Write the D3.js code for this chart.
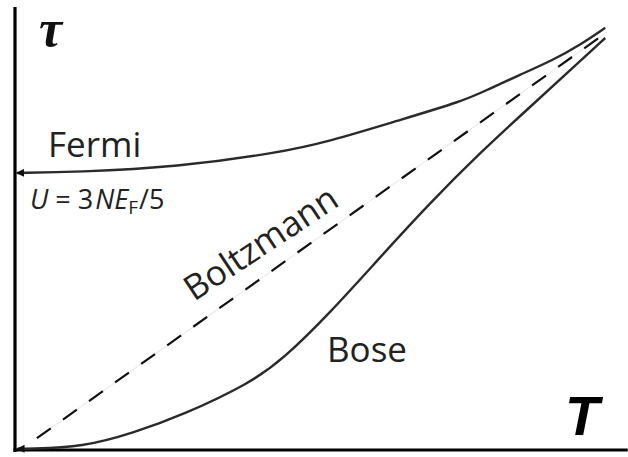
<!DOCTYPE html>
<html>
<head>
<meta charset="utf-8">
<script src="https://cdn.jsdelivr.net/npm/d3@7"></script>
<style>
  html, body { margin: 0; padding: 0; background: #fff; }
  svg { display: block; }
  .curve { fill: none; stroke: #2a2a2a; stroke-width: 2.4; }
  .label { font-family: "Open Sans", sans-serif; fill: #222; }
</style>
</head>
<body>
<div id="chart-area"></div>
<script>
// curves, in arbitrary units (T and tau from 0 to 100)
const fermiT   = [0.3, 10.5, 27.4, 44.3, 53.2, 64.5, 75.7, 79.7, 85.3, 90.9, 95.4, 99.7];
const fermiTau = [65.5, 65.7, 66.9, 70.2, 73.0, 77.8, 82.5, 85.1, 88.7, 92.2, 95.7, 99.8];

const boseT   = [0.4, 2.2, 11.5, 19.9, 28.4, 39.7, 45.3, 53.2, 61.7, 70.1, 78.5, 87.0, 93.8, 99.7];
const boseTau = [0.3, 0.3, 0.7, 4.0, 8.3, 15.8, 21.5, 32.4, 45.6, 58.4, 70.2, 81.1, 89.8, 97.4];

const boltzmannT   = [3.7, 100];
const boltzmannTau = [2.8, 98.8];

const axisT   = [0, 103.5];
const axisTau = [-0.5, 104.7];

const chartSize = {width: 628, height: 457};

const x = d3.scaleLinear().domain([0, 100]).range([15, 607]);
const y = d3.scaleLinear().domain([0, 100]).range([450, 27]);

const toPoints = (ts, taus) => ts.map((t, i) => [t, taus[i]]);

const line = d3.line()
    .x(d => x(d[0]))
    .y(d => y(d[1]))
    .curve(d3.curveBasis);

const straight = d3.line().x(d => x(d[0])).y(d => y(d[1]));

const svg = d3.select("#chart-area")
    .append("svg")
    .attr("width", chartSize.width)
    .attr("height", chartSize.height);

svg.append("defs").append("marker")
    .attr("id", "arrow")
    .attr("viewBox", "0 0 10 10")
    .attr("refX", 9)
    .attr("refY", 5)
    .attr("markerUnits", "userSpaceOnUse")
    .attr("markerWidth", 15)
    .attr("markerHeight", 8)
    .attr("orient", "auto-start-reverse")
    .append("path")
    .attr("d", "M0,0 L10,5 L0,10 z")
    .attr("fill", "#111");

// axes, no ticks
svg.append("line")
    .attr("x1", x(0)).attr("x2", x(0))
    .attr("y1", y(axisTau[0])).attr("y2", y(axisTau[1]))
    .attr("stroke", "#000").attr("stroke-width", 3.2);

svg.append("line")
    .attr("x1", x(0) - 1.5).attr("x2", x(axisT[1]))
    .attr("y1", y(0)).attr("y2", y(0))
    .attr("stroke", "#000").attr("stroke-width", 3.2);

// Boltzmann: faint guide under the dashes
const boltz = toPoints(boltzmannT, boltzmannTau);
svg.append("path")
    .attr("d", straight(boltz))
    .attr("fill", "none")
    .attr("stroke", "#ddd")
    .attr("stroke-width", 0.8);

svg.append("path")
    .attr("d", straight(boltz))
    .attr("fill", "none")
    .attr("stroke", "#111")
    .attr("stroke-width", 2.2)
    .attr("stroke-dasharray", "17,15");

svg.append("path")
    .attr("class", "curve")
    .attr("d", line(toPoints(fermiT, fermiTau)))
    .attr("marker-start", "url(#arrow)");

svg.append("path")
    .attr("class", "curve")
    .attr("d", line(toPoints(boseT, boseTau)))
    .attr("marker-start", "url(#arrow)");

// labels
svg.append("text")
    .attr("x", 39).attr("y", 46)
    .attr("font-family", "Liberation Serif, serif")
    .attr("font-style", "italic")
    .attr("font-weight", "bold")
    .attr("font-size", 52)
    .attr("fill", "#111")
    .text("τ");

svg.append("text")
    .attr("x", 565).attr("y", 435)
    .attr("font-family", "Liberation Sans, Arial, sans-serif")
    .attr("font-style", "italic")
    .attr("font-weight", "bold")
    .attr("font-size", 56)
    .attr("fill", "#000")
    .text("T");

svg.append("text")
    .attr("class", "label")
    .attr("x", 48).attr("y", 157)
    .attr("font-size", 35)
    .text("Fermi");

svg.append("text")
    .attr("class", "label")
    .attr("x", 327).attr("y", 362)
    .attr("font-size", 35)
    .text("Bose");

svg.append("text")
    .attr("class", "label")
    .attr("transform", "translate(194,302) rotate(-33.5)")
    .attr("font-size", 35)
    .text("Boltzmann");

const u = svg.append("text")
    .attr("class", "label")
    .attr("x", 30).attr("y", 209)
    .attr("font-size", 27);
u.append("tspan").attr("font-style", "italic").text("U");
u.append("tspan").text(" = 3");
u.append("tspan").attr("font-style", "italic").attr("dx", 2).text("NE");
u.append("tspan").attr("font-size", 19).attr("dy", 5).text("F");
u.append("tspan").attr("dy", -5).attr("dx", 1).text("/5");
</script>
</body>
</html>
